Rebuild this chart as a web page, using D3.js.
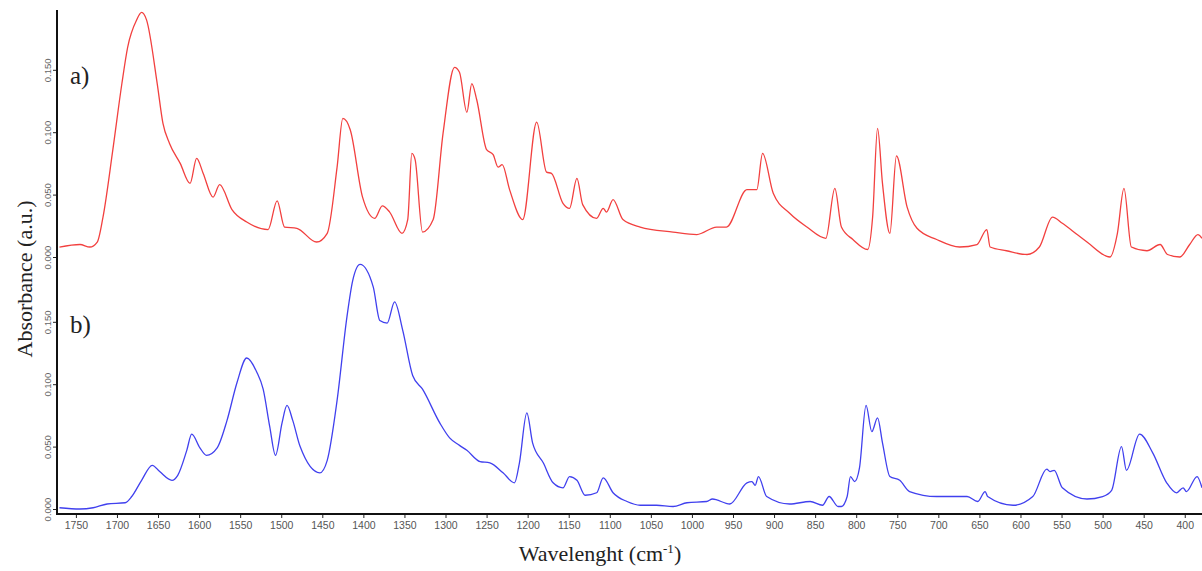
<!DOCTYPE html>
<html>
  <script src="https://d3js.org/d3.v7.min.js" type="text/JavaScript"></script>
  <body style="margin:0;background:#fff">
    <svg id="chart"></svg>
    <script>
// x tick labels (cm-1)
var xTicks = [1750, 1700, 1650, 1600, 1550, 1500, 1450, 1400, 1350, 1300, 1250, 1200, 1150,
  1100, 1050, 1000, 950, 900, 850, 800, 750, 700, 650, 600, 550, 500, 450, 400];
var yTicks = [0, 0.05, 0.1, 0.15];

// a) red spectrum
var wnA = [1770, 1745, 1733, 1724, 1717, 1705, 1694, 1687, 1676, 1670, 1664, 1651, 1644, 1636,
  1623, 1611, 1603, 1595, 1583, 1575, 1560, 1542, 1516, 1505, 1496, 1481, 1457, 1444, 1432,
  1425, 1416, 1401, 1386, 1377, 1368, 1353, 1346, 1341, 1337, 1328, 1315, 1303, 1289, 1283,
  1274, 1268, 1262, 1250, 1242, 1236, 1231, 1222, 1206, 1189, 1177, 1171, 1157, 1149, 1140,
  1133, 1116, 1108, 1104, 1096, 1084, 1063, 1023, 994, 970, 958, 933, 921, 914, 901, 881,
  860, 837, 826, 818, 804, 786, 780, 774, 768, 759, 751, 738, 726, 702, 674, 653, 641, 637,
  617, 592, 577, 561, 549, 531, 519, 491, 482, 474, 465, 446, 430, 421, 406, 394, 384, 379];
var absA = [0.008, 0.010, 0.008, 0.012, 0.032, 0.086, 0.139, 0.168, 0.190, 0.196, 0.190, 0.139,
  0.107, 0.091, 0.075, 0.059, 0.079, 0.067, 0.048, 0.058, 0.038, 0.028, 0.022, 0.045, 0.024,
  0.023, 0.012, 0.019, 0.072, 0.111, 0.102, 0.048, 0.031, 0.041, 0.036, 0.019, 0.030, 0.083,
  0.078, 0.020, 0.030, 0.099, 0.152, 0.148, 0.116, 0.139, 0.126, 0.086, 0.082, 0.072, 0.074,
  0.054, 0.030, 0.108, 0.068, 0.067, 0.043, 0.039, 0.063, 0.042, 0.031, 0.039, 0.036, 0.046,
  0.030, 0.024, 0.020, 0.018, 0.024, 0.024, 0.054, 0.054, 0.083, 0.051, 0.035, 0.024, 0.015,
  0.055, 0.024, 0.014, 0.006, 0.032, 0.103, 0.059, 0.019, 0.081, 0.040, 0.023, 0.014, 0.008,
  0.010, 0.022, 0.008, 0.005, 0.002, 0.008, 0.032, 0.027, 0.018, 0.012, 0.000, 0.019, 0.055,
  0.008, 0.005, 0.010, 0.002, 0.000, 0.010, 0.018, 0.015];

// b) blue spectrum
var wnB = [1770, 1745, 1729, 1712, 1690, 1682, 1670, 1657, 1648, 1633, 1626, 1615, 1609, 1599,
  1591, 1578, 1566, 1554, 1542, 1530, 1522, 1514, 1507, 1499, 1493, 1486, 1477, 1453, 1444,
  1432, 1420, 1413, 1404, 1388, 1380, 1371, 1362, 1352, 1340, 1328, 1307, 1295, 1283, 1274,
  1258, 1246, 1230, 1216, 1210, 1201, 1194, 1181, 1169, 1157, 1149, 1140, 1130, 1116, 1108,
  1096, 1079, 1063, 1043, 1023, 1006, 982, 975, 954, 933, 927, 923, 919, 909, 881, 856, 841,
  833, 822, 818, 811, 807, 802, 796, 788, 781, 774, 768, 759, 747, 735, 702, 682, 665, 652,
  643, 640, 609, 585, 568, 564, 559, 549, 519, 500, 489, 477, 471, 455, 439, 422, 410, 402,
  398, 385, 379];
var absB = [0.001, 0.000, 0.001, 0.004, 0.005, 0.010, 0.023, 0.035, 0.030, 0.023, 0.027, 0.047,
  0.060, 0.049, 0.043, 0.049, 0.071, 0.101, 0.121, 0.110, 0.096, 0.066, 0.043, 0.069, 0.083,
  0.071, 0.050, 0.029, 0.039, 0.087, 0.154, 0.183, 0.196, 0.178, 0.151, 0.149, 0.166, 0.143,
  0.107, 0.096, 0.069, 0.057, 0.051, 0.047, 0.038, 0.037, 0.029, 0.021, 0.037, 0.077, 0.053,
  0.037, 0.021, 0.017, 0.026, 0.023, 0.011, 0.013, 0.025, 0.013, 0.006, 0.003, 0.003, 0.002,
  0.005, 0.006, 0.008, 0.004, 0.021, 0.022, 0.019, 0.026, 0.010, 0.004, 0.006, 0.003, 0.010,
  0.002, 0.002, 0.010, 0.026, 0.022, 0.033, 0.083, 0.062, 0.073, 0.053, 0.026, 0.023, 0.014,
  0.010, 0.010, 0.010, 0.006, 0.014, 0.010, 0.003, 0.010, 0.032, 0.030, 0.031, 0.017, 0.008,
  0.010, 0.015, 0.050, 0.031, 0.060, 0.045, 0.021, 0.013, 0.017, 0.014, 0.026, 0.017];

var W = 1202, H = 571;
var svg = d3.select('#chart').attr('width', W).attr('height', H)
  .style('font-family', '"Liberation Sans", Arial, sans-serif');

var x = d3.scaleLinear().domain([1773, 379]).range([57, 1202]);
var yTop = d3.scaleLinear().domain([0, 0.2]).range([257, 7.4]);
var yBot = d3.scaleLinear().domain([0, 0.2]).range([509, 259.4]);
var axisY = 514;

svg.append('clipPath').attr('id', 'plot')
  .append('rect').attr('x', 58).attr('y', 0).attr('width', W - 58).attr('height', axisY - 1);

function drawSeries(wn, ab, y, color) {
  var pts = wn.map((w, i) => [w, ab[i]]);
  var line = d3.line().x(d => x(d[0])).y(d => y(d[1])).curve(d3.curveMonotoneX);
  svg.append('path')
    .attr('d', line(pts))
    .attr('clip-path', 'url(#plot)')
    .style('fill', 'none')
    .style('stroke', color)
    .style('stroke-width', '1.3px');
}

drawSeries(wnA, absA, yTop, '#f2403f');
drawSeries(wnB, absB, yBot, '#4040ee');

// y axes (rotated tick labels)
function drawY(y) {
  var g = svg.append('g').attr('transform', 'translate(57,0)')
    .call(d3.axisLeft(y).tickValues(yTicks).tickFormat(d3.format('.3f')).tickSize(4).tickSizeOuter(0));
  g.select('.domain').remove();
  g.selectAll('line').style('stroke', '#222');
  g.selectAll('text')
    .attr('transform', 'rotate(-90)')
    .attr('x', 0).attr('y', -6).attr('dy', 0)
    .style('text-anchor', 'middle')
    .style('font-size', '9.5px')
    .style('fill', '#666');
}
drawY(yTop);
drawY(yBot);

// x axis
var gx = svg.append('g').attr('transform', 'translate(0,' + axisY + ')')
  .call(d3.axisBottom(x).tickValues(xTicks).tickFormat(d3.format('d')).tickSize(4).tickSizeOuter(0));
gx.select('.domain').remove();
gx.selectAll('line').style('stroke', '#222');
gx.selectAll('text').attr('y', 8).attr('dy', '0.71em')
  .style('font-size', '10.5px').style('fill', '#555');

svg.append('line').attr('x1', 57).attr('x2', W).attr('y1', axisY).attr('y2', axisY)
  .style('stroke', '#111').style('stroke-width', '2px');
svg.append('line').attr('x1', 57).attr('x2', 57).attr('y1', 10).attr('y2', axisY + 1)
  .style('stroke', '#111').style('stroke-width', '2px');

// labels
var serif = '"Liberation Serif", "DejaVu Serif", serif';
svg.append('text').attr('x', 70).attr('y', 84).text('a)')
  .style('font-family', serif).style('font-size', '25px').style('fill', '#222');
svg.append('text').attr('x', 70).attr('y', 333).text('b)')
  .style('font-family', serif).style('font-size', '25px').style('fill', '#222');

svg.append('text')
  .attr('transform', 'translate(32,279) rotate(-90)')
  .style('text-anchor', 'middle')
  .style('font-family', serif).style('font-size', '22px').style('fill', '#222')
  .text('Absorbance (a.u.)');

var xl = svg.append('text').attr('x', 600).attr('y', 561)
  .style('text-anchor', 'middle')
  .style('font-family', serif).style('font-size', '22px').style('fill', '#222');
xl.append('tspan').text('Wavelenght (cm');
xl.append('tspan').attr('dy', -8).style('font-size', '13px').text('-1');
xl.append('tspan').attr('dy', 8).text(')');
    </script>
  </body>
</html>
